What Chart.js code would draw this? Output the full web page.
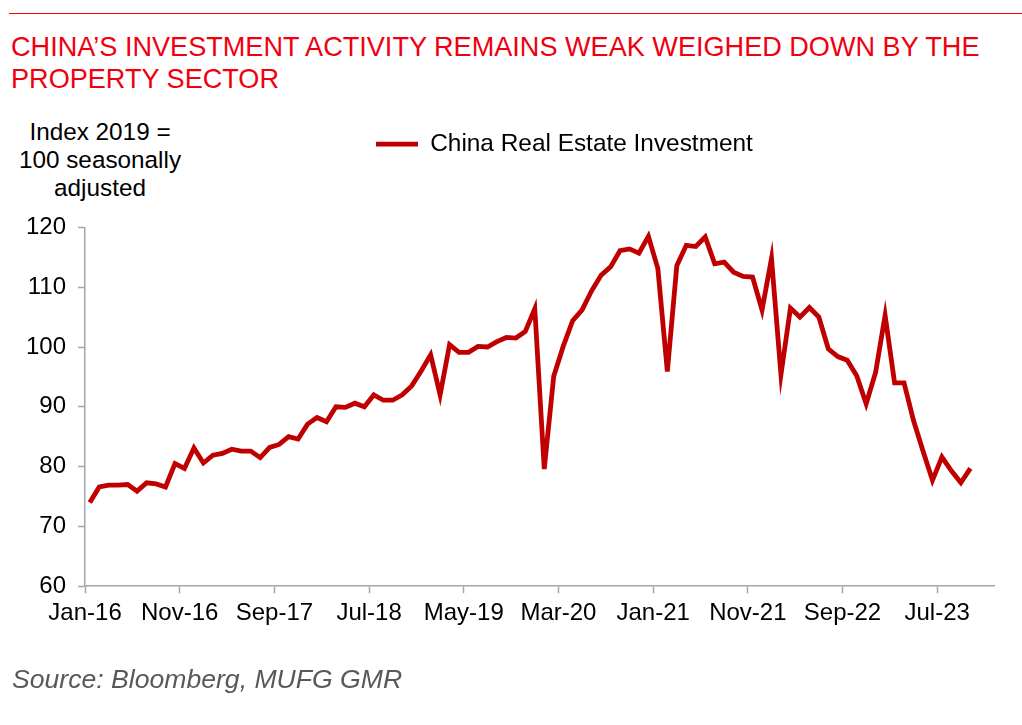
<!DOCTYPE html>
<html>
<head>
<meta charset="utf-8">
<script src="https://cdn.jsdelivr.net/npm/chart.js@4.4.1/dist/chart.umd.min.js"></script>
<style>
  html, body { margin: 0; padding: 0; background: #fff; }
  body { width: 1022px; height: 725px; position: relative; overflow: hidden;
         font-family: "Liberation Sans", Arial, sans-serif; }
  .rule { position: absolute; left: 9px; right: 0; top: 13px; height: 0; border-top: 1px solid #ff0000; }
  .title { position: absolute; left: 11px; top: 31px; font-size: 27.1px; line-height: 32px;
           color: #f0000f; white-space: nowrap; }
  .ytitle { position: absolute; left: 0; width: 200px; top: 118px; font-size: 24.3px; line-height: 28px;
            text-align: center; color: #000; }
  .source { position: absolute; left: 12px; top: 664px; font-size: 26.6px; line-height: 30px;
            font-style: italic; color: #595959; white-space: nowrap; }
  #chart { position: absolute; left: 0; top: 0; }
</style>
</head>
<body>
<div class="rule"></div>
<div class="title">CHINA’S INVESTMENT ACTIVITY REMAINS WEAK WEIGHED DOWN BY THE<br>PROPERTY SECTOR</div>
<div class="ytitle">Index 2019 =<br>100 seasonally<br>adjusted</div>
<canvas id="chart" width="1022" height="725"></canvas>
<div class="source">Source: Bloomberg, MUFG GMR</div>
<script>
// monthly, Jan-16 .. Oct-23
var monthNames = ['Jan', 'Feb', 'Mar', 'Apr', 'May', 'Jun', 'Jul', 'Aug', 'Sep', 'Oct', 'Nov', 'Dec'];
var years = ['16', '17', '18', '19', '20', '21', '22', '23'];
var tickLabels = ['Jan-16', 'Nov-16', 'Sep-17', 'Jul-18', 'May-19', 'Mar-20', 'Jan-21', 'Nov-21', 'Sep-22', 'Jul-23'];
var seriesName = 'China Real Estate Investment';
var investment = [
    74.0, 76.6, 76.9, 76.9, 77.0, 75.9, 77.3, 77.1, 76.6, 80.5, 79.7, 83.1,
    80.6, 81.9, 82.2, 82.9, 82.6, 82.6, 81.5, 83.2, 83.7, 85.0, 84.6, 87.1,
    88.2, 87.5, 90.0, 89.9, 90.6, 90.0, 92.0, 91.1, 91.1, 92.0, 93.5, 96.0,
    98.7, 92.0, 100.4, 99.1, 99.1, 100.1, 100.0, 100.9, 101.6, 101.5, 102.6, 106.4,
    79.6, 95.1, 100.1, 104.4, 106.2, 109.4, 112.0, 113.4, 116.1, 116.4, 115.7, 118.5,
    113.1, 95.9, 113.6, 117.0, 116.8, 118.4, 113.9, 114.2, 112.5, 111.8, 111.7, 106.2,
    114.8, 95.4, 106.5, 105.0, 106.6, 105.0, 99.7, 98.4, 97.8, 95.2, 90.5, 95.8,
    105.3, 94.0, 94.0, 87.7, 82.6, 77.7, 81.6, 79.3, 77.3, 79.7
];

var months = [];
years.forEach(function (y) {
    monthNames.forEach(function (m) { months.push(m + '-' + y); });
});
months = months.slice(0, investment.length);

var axisGrey = '#a6a6a6';
var lineRed = '#c00000';

// put the legend where the original has it
var legendPlacer = {
    id: 'legendPlacer',
    afterLayout: function (chart) {
        var lg = chart.legend;
        var w = lg.right - lg.left, h = lg.bottom - lg.top;
        lg.left = 366; lg.right = 366 + w;
        lg.top = 122; lg.bottom = 122 + h;
    }
};

Chart.defaults.font.family = '"Liberation Sans", Arial, sans-serif';
Chart.defaults.color = '#000';

new Chart(document.getElementById('chart').getContext('2d'), {
    type: 'line',
    data: {
        datasets: [
            {
                label: seriesName,
                // each month sits mid-way through its slot on the month axis
                data: investment.map(function (v, i) { return { x: i + 0.5, y: v }; }),
                borderColor: lineRed,
                backgroundColor: lineRed,
                borderWidth: 4.8,
                pointRadius: 0,
                tension: 0
            }
        ]
    },
    options: {
        responsive: false,
        animation: false,
        layout: { padding: { left: 14, right: 28, top: 183, bottom: 91 } },
        plugins: {
            legend: {
                display: true,
                position: 'top',
                align: 'start',
                labels: {
                    usePointStyle: true,
                    pointStyle: 'line',
                    pointStyleWidth: 42,
                    padding: 10,
                    color: '#000',
                    font: { size: 24.4 }
                }
            },
            tooltip: { enabled: false }
        },
        scales: {
            x: {
                type: 'linear',
                min: 0,
                max: 96,
                ticks: {
                    stepSize: 10,
                    includeBounds: false,
                    autoSkip: false,
                    maxRotation: 0,
                    padding: 6,
                    color: '#000',
                    font: { size: 24 },
                    callback: function (v) { return tickLabels[v / 10]; }
                },
                grid: { drawOnChartArea: false, drawTicks: true, tickLength: 7, tickColor: axisGrey, tickWidth: 1.5 },
                border: { color: axisGrey, width: 1.5 }
            },
            y: {
                min: 60,
                max: 120,
                ticks: { stepSize: 10, padding: 12, color: '#000', font: { size: 24 } },
                grid: { drawOnChartArea: false, drawTicks: true, tickLength: 7, tickColor: axisGrey, tickWidth: 1.5 },
                border: { color: axisGrey, width: 1.5 }
            }
        }
    },
    plugins: [legendPlacer]
});
</script>
</body>
</html>
